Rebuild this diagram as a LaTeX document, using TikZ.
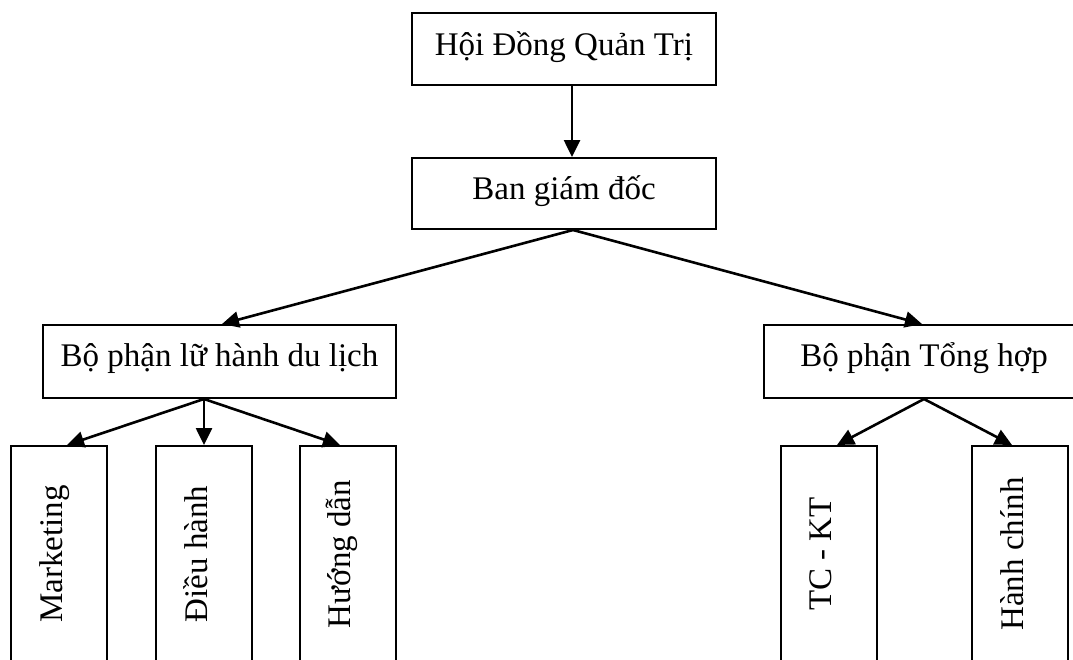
\documentclass[tikz,border=0pt]{standalone}
\usepackage{fontspec}
\setmainfont{Liberation Serif}
\usetikzlibrary{arrows.meta}
\begin{document}
\begin{tikzpicture}[x=1pt,y=-1pt,
  box/.style={draw,line width=2pt,inner sep=0pt,font=\fontsize{33}{40}\selectfont,
    text height=20pt,text depth=8pt},
  hbox/.style={box,minimum height=72pt},
  vbox/.style={box,rotate=90,minimum width=216pt,minimum height=96pt,
    text height=17pt,text depth=11pt},
  conn/.style={line width=2.6pt,-{Triangle[length=17pt,width=16pt]}}]
\useasboundingbox (0,0) rectangle (1073,659);
\clip (0,0) rectangle (1073,659);
\node[hbox,minimum width=304pt] (hdqt) at (564,49) {Hội Đồng Quản Trị};
\node[hbox,minimum width=304pt,minimum height=71pt] (bgd) at (564,193.5) {Ban giám đốc};
\node[hbox,minimum width=353pt,minimum height=73pt,text height=19pt,text depth=10pt] (lh) at (219.5,361.5) {Bộ phận lữ hành du lịch};
\node[hbox,minimum width=320pt,minimum height=73pt,text height=19pt,text depth=10pt] (th) at (924,361.5) {Bộ phận Tổng hợp};
\node[vbox] (mk) at (59,554) {Marketing};
\node[vbox] (dh) at (204,554) {Điều hành};
\node[vbox,text height=16pt,text depth=12pt] (hd) at (348,554) {Hướng dẫn};
\node[vbox] (tk) at (828.5,554) {TC - KT};
\node[vbox] (hc) at (1020,554) {Hành chính};
\draw[conn] ([xshift=8pt]hdqt.south) -- ([xshift=8pt]bgd.north);
\draw[conn] ([xshift=9pt]bgd.south) -- ([xshift=2.5pt]lh.north);
\draw[conn] ([xshift=9pt]bgd.south) -- ([xshift=-2pt]th.north);
\draw[conn] ([xshift=-15.5pt]lh.south) -- ([xshift=8pt]mk.east);
\draw[conn] ([xshift=-15.5pt]lh.south) -- (dh.east);
\draw[conn] ([xshift=-15.5pt]lh.south) -- ([xshift=-8pt]hd.east);
\draw[conn] (th.south) -- ([xshift=8.5pt]tk.east);
\draw[conn] (th.south) -- ([xshift=-8pt]hc.east);
\end{tikzpicture}
\end{document}
